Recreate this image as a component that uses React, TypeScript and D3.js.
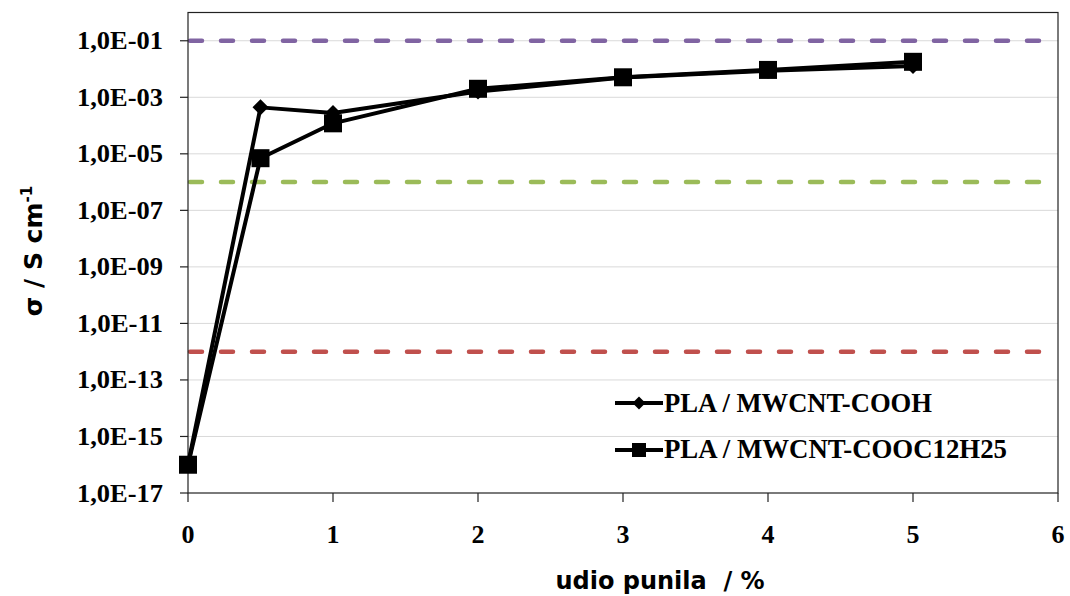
import React from "react";
import * as d3 from "d3";

const xValues = [0, 0.5, 1, 2, 3, 4, 5];
const seriesCOOH = [1e-16, 4.4e-4, 2.8e-4, 1.6e-3, 5e-3, 8.7e-3, 1.27e-2];
const seriesC12 = [1e-16, 7e-6, 1.2e-4, 2e-3, 5.1e-3, 9.3e-3, 1.8e-2];
const seriesNames = ["PLA / MWCNT-COOH", "PLA / MWCNT-COOC12H25"];
const yTickValues = [1e-1, 1e-3, 1e-5, 1e-7, 1e-9, 1e-11, 1e-13, 1e-15, 1e-17];
const yTickLabels = ["1,0E-01", "1,0E-03", "1,0E-05", "1,0E-07", "1,0E-09", "1,0E-11", "1,0E-13", "1,0E-15", "1,0E-17"];
const xTickValues = [0, 1, 2, 3, 4, 5, 6];
const refLevels = [1e-1, 1e-6, 1e-12];
const refColors = ["#8064A2", "#9BBB59", "#C0504D"];

const W = 1070, H = 596;
const L = 188, R = 1058, T = 12.5, B = 493;

export default function App() {
  const x = d3.scaleLinear().domain([0, 6]).range([L, R]);
  const y = d3.scaleLog().domain([1e-17, 1]).range([B, T]);
  const line = d3.line<number>().x((_, i) => x(xValues[i])).y((v) => y(v));
  const serif = "'Liberation Serif', 'Times New Roman', serif";
  const sans = "'DejaVu Sans', Verdana, sans-serif";
  const diamond = (cx: number, cy: number, r: number) =>
    `M${cx},${cy - r}L${cx + r},${cy}L${cx},${cy + r}L${cx - r},${cy}Z`;

  return (
    <svg width={W} height={H} style={{ position: "absolute", left: 0, top: 0, background: "#fff" }}>
      {/* gridlines */}
      {yTickValues.slice(0, -1).map((v, i) => (
        <line key={"g" + i} x1={L} x2={R} y1={y(v)} y2={y(v)} stroke="#d9d9d9" strokeWidth={1} />
      ))}
      {/* reference dashed lines */}
      {refLevels.map((v, i) => (
        <line key={"r" + i} x1={L + 2} x2={R - 4} y1={y(v)} y2={y(v)} stroke={refColors[i]} strokeWidth={4.5}
          strokeDasharray="12 19" strokeLinecap="round" />
      ))}
      {/* frame */}
      <rect x={L} y={T} width={R - L} height={B - T} fill="none" stroke="#222" strokeWidth={1.2} />
      {/* y ticks */}
      {yTickValues.map((v, i) => (
        <g key={"yt" + i}>
          <line x1={L - 8} x2={L} y1={y(v)} y2={y(v)} stroke="#222" strokeWidth={1.2} />
          <text x={163} y={y(v)} dy="0.34em" textAnchor="end" fontFamily={serif} fontWeight="bold" fontSize={25}
            textLength={86} lengthAdjust="spacingAndGlyphs">{yTickLabels[i]}</text>
        </g>
      ))}
      {/* x ticks */}
      {xTickValues.map((v) => (
        <g key={"xt" + v}>
          <line x1={x(v)} x2={x(v)} y1={B} y2={B + 9} stroke="#222" strokeWidth={1.2} />
          <text x={x(v)} y={543} textAnchor="middle" fontFamily={serif} fontWeight="bold" fontSize={26}>{v}</text>
        </g>
      ))}
      {/* series lines */}
      <path d={line(seriesCOOH) || ""} fill="none" stroke="#000" strokeWidth={4} strokeLinejoin="round" />
      {seriesCOOH.map((v, i) => (
        <path key={"d" + i} d={diamond(x(xValues[i]), y(v), 8)} fill="#000" />
      ))}
      <path d={line(seriesC12) || ""} fill="none" stroke="#000" strokeWidth={4} strokeLinejoin="round" />
      {seriesC12.map((v, i) => (
        <rect key={"s" + i} x={x(xValues[i]) - 9} y={y(v) - 9} width={18} height={18} fill="#000" />
      ))}
      {/* legend */}
      <g>
        <line x1={615} x2={663} y1={403} y2={403} stroke="#000" strokeWidth={4} />
        <path d={diamond(639, 403, 6.5)} fill="#000" />
        <text x={664} y={412} fontFamily={serif} fontWeight="bold" fontSize={27} textLength={268} lengthAdjust="spacingAndGlyphs">{seriesNames[0]}</text>
        <line x1={615} x2={663} y1={450} y2={450} stroke="#000" strokeWidth={4} />
        <rect x={632} y={443} width={14} height={14} fill="#000" />
        <text x={664} y={458} fontFamily={serif} fontWeight="bold" fontSize={27} textLength={343} lengthAdjust="spacingAndGlyphs">{seriesNames[1]}</text>
      </g>
      {/* axis titles */}
      <text x={660} y={589} textAnchor="middle" fontFamily={sans} fontWeight="bold" fontSize={24}>{"udio punila\u00a0 / %"}</text>
      <text transform="translate(42,251) rotate(-90)" textAnchor="middle" fontFamily={sans} fontWeight="bold" fontSize={25}>
        σ / S cm<tspan dy="-10" fontSize={15}>-1</tspan>
      </text>
    </svg>
  );
}
